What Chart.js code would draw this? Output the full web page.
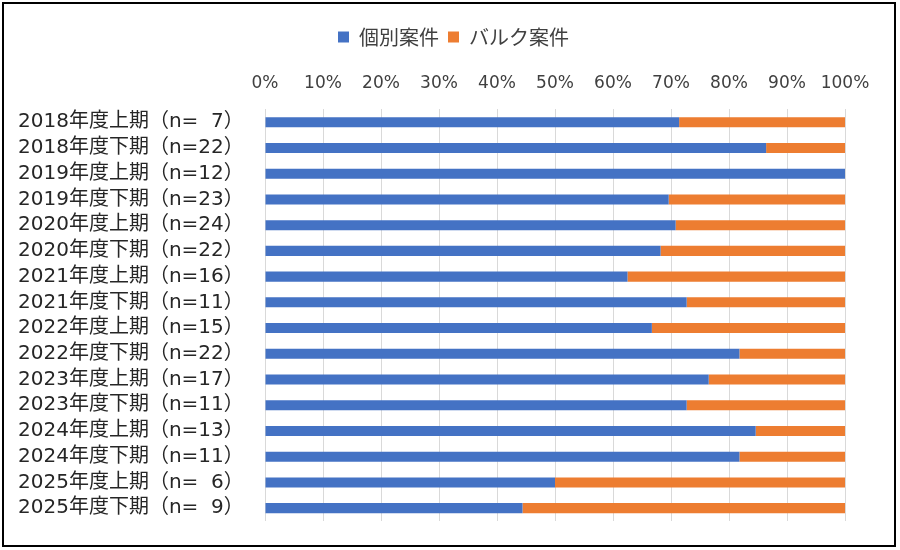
<!DOCTYPE html>
<html>
<head>
<meta charset="utf-8">
<script src="https://cdn.jsdelivr.net/npm/chart.js@4"></script>
<style>
  body { margin: 0; background: #fff; }
  .frame {
    position: absolute; left: 2px; top: 2px;
    width: 894px; height: 545px;
    box-sizing: border-box; border: 2px solid #000;
  }
  .frame canvas { display: block; }
</style>
</head>
<body>
<div class="frame"><canvas id="myChart" width="890" height="541"></canvas></div>
<script>
// figure space keeps the single-digit counts aligned with the two-digit ones
const periods = [
  "2018年度上期（n=\u20077）", "2018年度下期（n=22）", "2019年度上期（n=12）", "2019年度下期（n=23）",
  "2020年度上期（n=24）", "2020年度下期（n=22）", "2021年度上期（n=16）", "2021年度下期（n=11）",
  "2022年度上期（n=15）", "2022年度下期（n=22）", "2023年度上期（n=17）", "2023年度下期（n=11）",
  "2024年度上期（n=13）", "2024年度下期（n=11）", "2025年度上期（n=\u20076）", "2025年度下期（n=\u20079）"
];

// percentages
const individualCases = [71.4, 86.4, 100, 69.6, 70.8, 68.2, 62.5, 72.7, 66.7, 81.8, 76.5, 72.7, 84.6, 81.8, 50.0, 44.4];
const bulkCases = [28.6, 13.6, 0, 30.4, 29.2, 31.8, 37.5, 27.3, 33.3, 18.2, 23.5, 27.3, 15.4, 18.2, 50.0, 55.6];

const fontFamily = "'DejaVu Sans', 'Noto Sans CJK JP', sans-serif";

// the padding is lopsided, so nudge the legend back to the middle of the frame
const legendShift = {
  id: "legendShift",
  afterLayout: (chart) => {
    chart.legend.left += 22;
    chart.legend.right += 22;
  },
};

const ctx = document.getElementById("myChart").getContext("2d");
const myChart = new Chart(ctx, {
  type: "bar",
  data: {
    labels: periods,
    datasets: [
      { label: "個別案件", data: individualCases, backgroundColor: "#4472C4", borderWidth: 0 },
      { label: "バルク案件", data: bulkCases, backgroundColor: "#ED7D31", borderWidth: 0 },
    ],
  },
  options: {
    indexAxis: "y",
    responsive: false,
    animation: false,
    layout: { padding: { left: 14, right: 49, top: 14, bottom: 24 } },
    datasets: { bar: { categoryPercentage: 1, barPercentage: 0.39 } },
    plugins: {
      legend: {
        position: "top",
        labels: {
          boxWidth: 11, boxHeight: 11, padding: 9,
          color: "#404040",
          font: { family: "'Noto Sans CJK JP', sans-serif", size: 20 },
        },
      },
      tooltip: { enabled: false },
    },
    scales: {
      x: {
        position: "top",
        stacked: true,
        min: 0, max: 100,
        ticks: {
          stepSize: 10,
          padding: 16,
          maxRotation: 0,
          autoSkip: false,
          color: "#404040",
          font: { family: fontFamily, size: 17 },
          callback: (v) => v + "%",
        },
        grid: { color: "#d9d9d9", lineWidth: 1, drawTicks: false },
        border: { display: false },
      },
      y: {
        stacked: true,
        afterFit: (scale) => { scale.width = 247; },
        ticks: {
          padding: 0,
          crossAlign: "far",
          autoSkip: false,
          color: "#262626",
          font: { family: fontFamily, size: 20 },
        },
        grid: { display: false },
        border: { display: false },
      },
    },
  },
  plugins: [legendShift],
});
</script>
</body>
</html>
